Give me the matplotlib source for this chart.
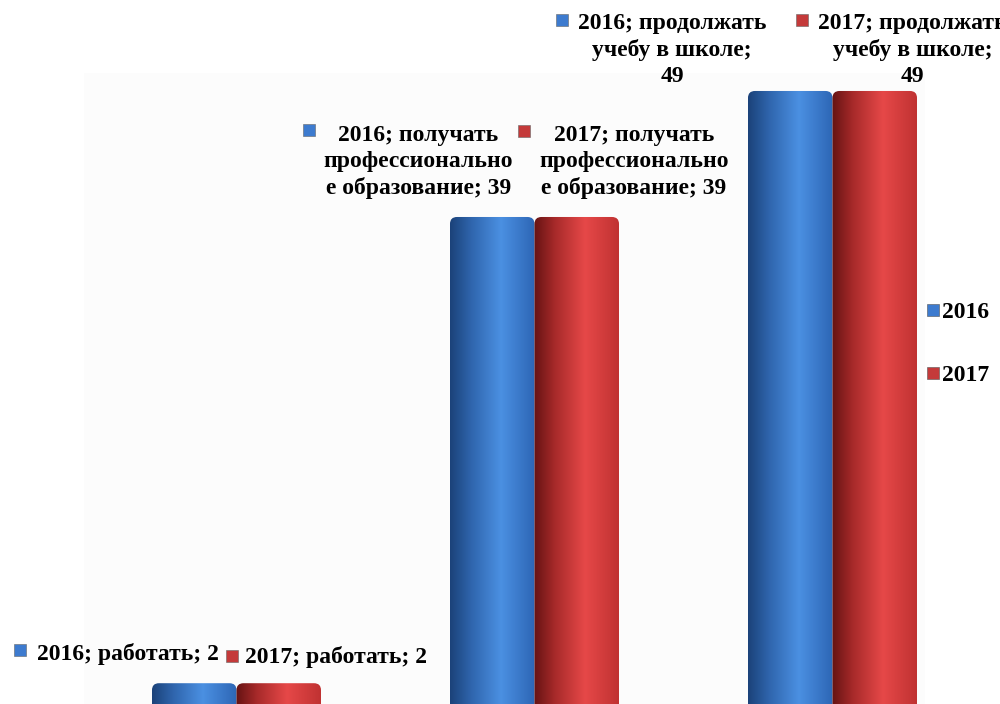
import numpy as np
import matplotlib
matplotlib.use("Agg")
import matplotlib.pyplot as plt
from matplotlib.colors import LinearSegmentedColormap
from matplotlib.lines import Line2D
from matplotlib.patches import Rectangle, FancyBboxPatch

# data
categories = ["работать", "получать\nпрофессионально\nе образование", "продолжать\nучебу в школе;"]
years = ["2016", "2017"]
values_2016 = [2, 39, 49]
values_2017 = [2, 39, 49]

label_2016 = ["2016; работать; 2",
              "2016; получать\nпрофессионально\nе образование; 39",
              "2016; продолжать\nучебу в школе;\n49"]
label_2017 = ["2017; работать; 2",
              "2017; получать\nпрофессионально\nе образование; 39",
              "2017; продолжать\nучебу в школе;\n49"]

# cylinder-ish shading
blue_cmap = LinearSegmentedColormap.from_list(
    "blue_cyl", [(0.0, "#1b4279"), (0.25, "#2f65ad"), (0.6, "#4b90e2"), (1.0, "#2d66b5")])
red_cmap = LinearSegmentedColormap.from_list(
    "red_cyl", [(0.0, "#651313"), (0.25, "#a82a2a"), (0.6, "#e64848"), (1.0, "#c03232")])
blue_key = "#3d7bcf"
red_key = "#c43a3a"

# label offsets (pixels) from bar top centre: text (dx, dy), marker (dx, dy)
text_off_2016 = [(-66, 29), (-74, 55), (-118, 41)]
mark_off_2016 = [(-174, 33), (-183, 87), (-228, 71)]
text_off_2017 = [(57, 26), (57, 55), (38, 41)]
mark_off_2017 = [(-47, 27), (-53, 86), (-73, 71)]

plt.rcParams["font.family"] = ["Liberation Serif", "DejaVu Serif"]

fig = plt.figure(figsize=(10, 7.04), dpi=100)
fig.patch.set_facecolor("white")

ax = fig.add_axes([0, 0, 1, 1])
ax.set_facecolor("none")
ax.axis("off")

# faint plot area
ax.add_patch(Rectangle((84 / 1000, 0), (925 - 84) / 1000, 1 - 73 / 704,
                       transform=fig.transFigure, facecolor="#fcfcfc",
                       edgecolor="none", zorder=0))

x = np.arange(len(categories))
width = 0.2836
xlim = (-0.7936, 2.5621)
ylim = (0.35, 56.22)
ax.set_xlim(*xlim)
ax.set_ylim(*ylim)

bars16 = ax.bar(x - width / 2, values_2016, width, color="none", linewidth=0, zorder=2)
bars17 = ax.bar(x + width / 2, values_2017, width, color="none", linewidth=0, zorder=2)

# pixel per data unit, to keep the rounded tops circular-ish
px_x = 1000 / (xlim[1] - xlim[0])
px_y = 704 / (ylim[1] - ylim[0])
round_x = 7 / px_x

grad = np.linspace(0, 1, 256).reshape(1, -1)
for bars, cmap in ((bars16, blue_cmap), (bars17, red_cmap)):
    for b in bars:
        x0, y0 = b.get_x(), b.get_y()
        x1, y1 = x0 + b.get_width(), y0 + b.get_height()
        clip = FancyBboxPatch((x0, y0 - 3), x1 - x0, y1 - y0 + 3,
                              boxstyle=f"round,pad=0,rounding_size={round_x}",
                              mutation_aspect=px_x / px_y, transform=ax.transData)
        im = ax.imshow(grad, extent=[x0, x1, y0 - 3, y1], aspect="auto",
                       cmap=cmap, zorder=3, interpolation="bicubic")
        im.set_clip_path(clip)

ax.set_xlim(*xlim)
ax.set_ylim(*ylim)

fs = 17
for bars, labels, toff, moff, key in (
        (bars16, label_2016, text_off_2016, mark_off_2016, blue_key),
        (bars17, label_2017, text_off_2017, mark_off_2017, red_key)):
    for b, lab, (tdx, tdy), (mdx, mdy) in zip(bars, labels, toff, moff):
        cx = b.get_x() + b.get_width() / 2
        top = b.get_height()
        ax.annotate(lab, xy=(cx, top), xytext=(tdx, tdy), textcoords="offset pixels",
                    ha="center", va="center", multialignment="center",
                    fontsize=fs, fontweight="bold", color="black",
                    linespacing=1.3, annotation_clip=False, zorder=6)
        px, py = ax.transData.transform((cx, top))
        ax.plot([px + mdx], [py + mdy], marker="s", markersize=8,
                markerfacecolor=key, markeredgecolor="#666666", markeredgewidth=0.4,
                transform=None, clip_on=False, zorder=5)

handles = [Line2D([], [], linestyle="none", marker="s", markersize=8,
                  markerfacecolor=blue_key, markeredgecolor="#555555", markeredgewidth=0.4),
           Line2D([], [], linestyle="none", marker="s", markersize=8,
                  markerfacecolor=red_key, markeredgecolor="#555555", markeredgewidth=0.4)]
fig.legend(handles, years, loc="center left", bbox_to_anchor=(0.927, 1 - 344 / 704),
           frameon=False, handlelength=0.5, handletextpad=0.15, labelspacing=1.75,
           borderpad=0, borderaxespad=0, prop={"size": fs, "weight": "bold"})

fig.savefig("out.png", dpi=100, facecolor="white")
